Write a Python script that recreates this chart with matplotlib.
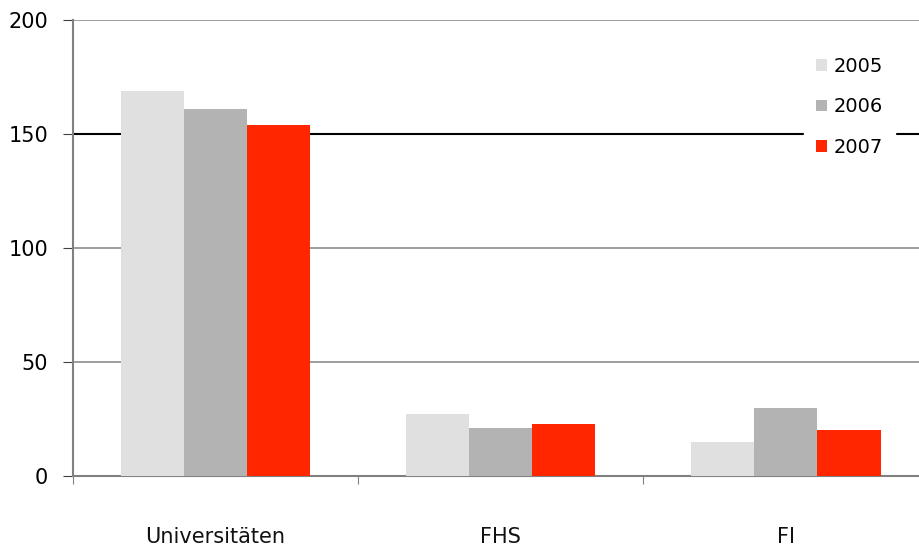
import matplotlib
matplotlib.use("Agg")
import matplotlib.pyplot as plt
import numpy as np

categories = ['Universitäten', 'FHS', 'FI']
years = ['2005', '2006', '2007']
v2005 = [169, 27, 15]
v2006 = [161, 21, 30]
v2007 = [154, 23, 20]
colors = ['#e0e0e0', '#b3b3b3', '#ff2600']

plt.rcParams['font.family'] = ['DejaVu Sans']

fig = plt.figure(figsize=(9.19, 5.48), dpi=100)
ax = fig.add_axes([73 / 919, 72 / 548, 1 - 73 / 919, 456 / 548])

x = np.arange(len(categories))
w = 0.222
for i, (vals, yr) in enumerate(zip([v2005, v2006, v2007], years)):
    ax.bar(x + (i - 1) * w, vals, width=w, color=colors[i], label=yr, zorder=3)

ax.set_xlim(-0.5, 2.468)
ax.set_ylim(0, 200)
ax.set_yticks([0, 50, 100, 150, 200])
for yv in [50, 100, 200]:
    ax.axhline(yv, color='#8c8c8c', linewidth=1.2, zorder=1)
ax.axhline(150, color='black', linewidth=1.5, zorder=1)

ax.set_xticks([-0.5, 0.5, 1.5], minor=False)
ax.set_xticklabels([])
ax.set_xticks(x, minor=True)
ax.set_xticklabels(categories, minor=True, fontsize=15, color='#111111')
ax.tick_params(axis='x', which='minor', length=0, pad=37)
ax.tick_params(axis='x', which='major', length=6, color='#808080', direction='out')
ax.tick_params(axis='y', length=7, color='#404040', labelsize=15, pad=11)

for s in ['top', 'right']:
    ax.spines[s].set_visible(False)
ax.spines['left'].set_color('#808080')
ax.spines['left'].set_linewidth(1.5)
ax.spines['bottom'].set_color('#808080')
ax.spines['bottom'].set_linewidth(1.5)

leg = ax.legend(loc='upper left', bbox_to_anchor=(0.853, 0.966), frameon=True,
                edgecolor='white', facecolor='white', framealpha=1, fancybox=False,
                handlelength=0.55, handleheight=0.55, labelspacing=1.1,
                handletextpad=0.35, fontsize=14, borderpad=0.6)
leg.set_zorder(5)

fig.savefig('out.png', dpi=100)
